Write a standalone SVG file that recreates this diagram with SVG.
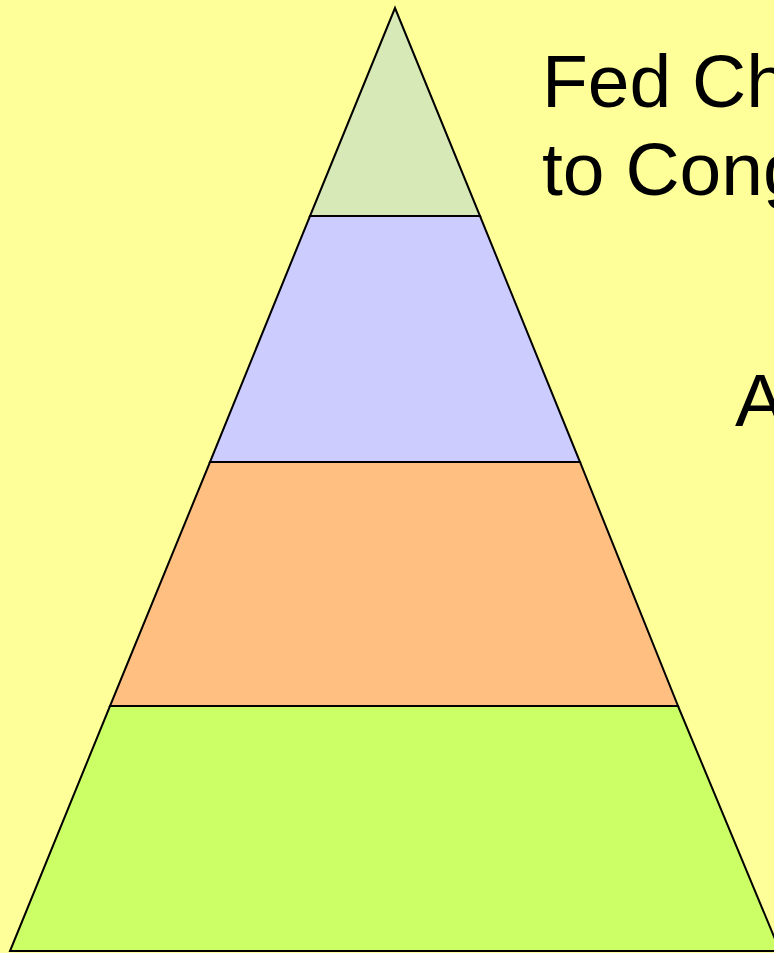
<svg xmlns="http://www.w3.org/2000/svg" width="774" height="953" viewBox="0 0 774 953">
<style>
.tier{stroke:#000;stroke-width:2;stroke-linejoin:miter}
.lbl{font-family:"Liberation Sans",Arial,sans-serif;font-size:75px;fill:#000}
</style>
<rect x="0" y="0" width="774" height="953" fill="#FFFF99"/>
<g id="tier1"><polygon class="tier" fill="#D7E9B7" points="395,8 480,216 310,216"/></g>
<g id="tier2"><polygon class="tier" fill="#CCCCFF" points="310,216 480,216 580,462 210,462"/></g>
<g id="tier3"><polygon class="tier" fill="#FFBF80" points="210,462 580,462 678,706 110,706"/></g>
<g id="tier4"><polygon class="tier" fill="#CCFF66" points="110,706 678,706 780,951 10,951"/></g>
<g id="connectors"></g>
<g id="labels">
<text class="lbl" x="542" y="107">Fed Ch</text>
<text class="lbl" x="542" y="195">to Cong</text>
<text class="lbl" x="735" y="426">A</text>
</g>
</svg>
